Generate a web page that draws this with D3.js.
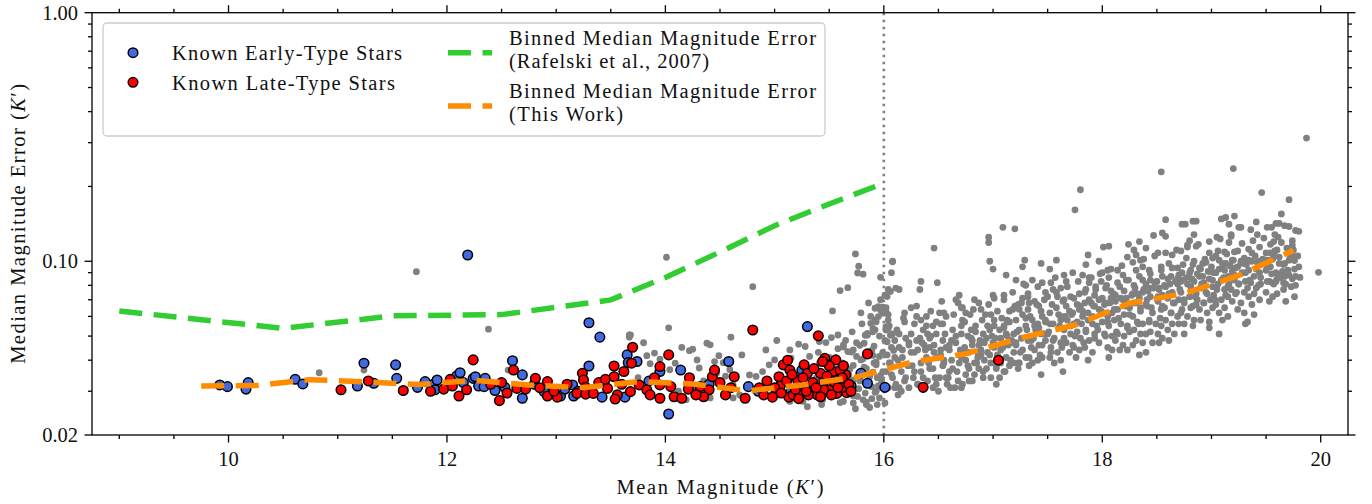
<!DOCTYPE html>
<html>
<head>
<meta charset="utf-8">
<script src="https://cdn.jsdelivr.net/npm/d3@7/dist/d3.min.js"></script>
<style>
  body { margin: 0; background: #fff; }
  svg { display: block; }
  text { font-family: "Liberation Serif", "DejaVu Serif", serif; fill: #111; }
</style>
</head>
<body>
<svg id="chart" width="1372" height="504"></svg>
<script>
// ---- Binned median magnitude error, Rafelski et al. (2007) ----
const rafelskiMag = [9.0, 10.5, 11.5, 12.5, 13.5, 14.0, 14.5, 15.0, 15.5, 16.0];
const rafelskiErr = [0.0631, 0.0537, 0.0603, 0.0610, 0.0699, 0.0860, 0.109, 0.139, 0.170, 0.206];

// ---- Binned median magnitude error, this work ----
const thisWorkMag = [9.75, 10.25, 10.75, 11.25, 11.75, 12.25, 12.75, 13.25, 13.75, 14.25, 14.75,
                     15.25, 15.75, 16.25, 16.75, 17.25, 17.75, 18.25, 18.75, 19.25, 19.75];
const thisWorkErr = [0.0315, 0.0316, 0.0334, 0.0327, 0.0319, 0.0332, 0.0318, 0.0310, 0.0328, 0.0321, 0.0301,
                     0.0318, 0.0342, 0.0392, 0.0424, 0.0491, 0.0554, 0.0678, 0.0742, 0.0877, 0.1105];

// ---- All detected stars: [mean K' magnitude, median magnitude error] ----
const fieldStars = [
  [10.83,.0356],[11.24,.0365],[11.72,.0908],[12.38,.0533],[12.56,.0365],[14.01,.1038],[13.67,.0505],[14.03,.0540],
  [14.80,.0790],[15.81,.0887],[15.60,.0762],[15.67,.0783],[15.53,.0631],[15.97,.0862],[15.95,.0657],[15.99,.0653],
  [16.02,.0627],[15.88,.0563],[15.85,.0513],[15.92,.0530],[16.02,.0546],
  [13.68,.0505],[13.67,.0495],[13.83,.0417],[13.90,.0427],[13.86,.0387],[13.95,.0404],[14.04,.0366],[14.09,.0389],
  [14.22,.0437],[14.25,.0443],[14.38,.0468],[14.41,.0461],[14.49,.0417],[14.29,.0401],[14.31,.0372],[14.47,.0355],
  [14.53,.0391],[14.59,.0366],[14.62,.0318],[14.68,.0290],[14.77,.0349],[14.83,.0344],[14.89,.0360],[14.95,.0383],
  [15.00,.0401],[15.14,.0440],[15.22,.0464],[15.28,.0454],[15.15,.0408],[15.32,.0414],[15.41,.0475],[15.47,.0471],
  [15.52,.0493],[15.58,.0505],[15.63,.0461],[15.67,.0433],[15.41,.0389],[15.38,.0339],[15.50,.0366],[15.72,.0440],
  [15.75,.0414],[15.79,.0401],[15.82,.0468],[15.85,.0505],[15.90,.0537],[15.92,.0581],[15.95,.0599],[15.99,.0618],
  [16.02,.0529],[15.96,.0414],[15.93,.0383],[15.99,.0360],[15.87,.0344],[15.81,.0277],[15.76,.0286],[15.72,.0269],
  [15.84,.0265],[15.63,.0273],[15.44,.0277],[15.26,.0273],[15.14,.0273],[14.74,.0282],[14.62,.0282],[14.41,.0282],
  [14.19,.0277],[15.66,.0313],[15.72,.0333],[15.89,.0313],[15.93,.0300],[15.96,.0282],[16.01,.0269],
  [15.70,.0431],[15.78,.0459],[15.83,.0504],[15.90,.0520],[15.93,.0571],[15.92,.0647],[15.97,.0637],[15.89,.0438],
  [15.90,.0418],[15.81,.0405],[15.72,.0381],[15.93,.0393],[15.63,.0452],[15.84,.0271],[15.87,.0258],[15.72,.0288],
  [15.77,.0307],[15.92,.0297],[15.95,.0316],[15.97,.0347],[15.69,.0369],[15.90,.0358],[16.04,.0537],[16.06,.0504],
  [16.03,.0474],[16.09,.0438],[16.03,.0721],[16.06,.0756],
  [15.05,.0295],[15.10,.0320],[15.18,.0350],[15.20,.0280],[15.25,.0335],[15.30,.0260],[15.35,.0370],[15.36,.0300],
  [15.40,.0430],[15.43,.0265],[15.48,.0345],[15.50,.0410],[15.52,.0285],[15.55,.0330],[15.58,.0445],[15.60,.0270],
  [15.62,.0390],[15.65,.0480],[15.68,.0350],[15.70,.0300],[15.71,.0520],[15.74,.0255],[15.75,.0470],[15.78,.0330],
  [15.80,.0560],[15.82,.0375],[15.83,.0295],[15.86,.0420],[15.88,.0600],[15.89,.0280],[15.91,.0455],[15.94,.0340],
  [15.96,.0500],[15.98,.0310],[15.97,.0700],[15.94,.0265],[15.86,.0680],[15.79,.0620],[15.84,.0370],[15.91,.0390],
  [14.12,.0300],[14.35,.0330],[14.45,.0395],[14.55,.0345],[14.70,.0420],[14.85,.0300],[14.92,.0440],[15.02,.0480],
  [14.15,.0450],[14.60,.0495],[13.80,.0470],[13.75,.0340],
  [19.87,.313],[18.54,.229],[19.20,.236],[17.80,.194],[17.75,.161],[19.46,.189],[19.71,.177],[18.58,.147],
  [18.86,.145],[18.76,.141],[19.09,.148],[19.13,.150],[19.21,.152],[19.41,.144],[19.64,.155],[19.55,.137],
  [19.62,.142],[19.71,.138],[19.80,.132],[19.27,.137],[17.09,.137],[17.20,.135],[16.46,.113],[16.96,.125],
  [16.96,.119],[16.08,.0995],[15.74,.107],[15.77,.0955],[15.76,.0897],[19.98,.0903],[19.81,.0861],[19.76,.1007],
  [19.75,.1047],[19.68,.0809],[19.59,.0830],[19.56,.0817],[19.67,.0869],
  [15.99,.064],[16.02,.065],[16.04,.058],[16.05,.055],[16.08,.051],[16.01,.048],[16.07,.045],[15.99,.043],
  [16.10,.041],[16.05,.039],[16.02,.036],[16.08,.034],[15.98,.033],[16.11,.032],[16.04,.031],[16.10,.031],
  [16.01,.073],[16.04,.077],[16.11,.078],[16.14,.077],[16.07,.090],[16.08,.100],
  [16.19,.062],[16.25,.065],[16.14,.051],[16.20,.049],[16.23,.047],[16.17,.044],[16.25,.043],[16.13,.040],
  [16.22,.038],[16.16,.036],[16.27,.034],[16.19,.033],[16.23,.031],[16.14,.031],[16.30,.060],[16.28,.056],
  [16.34,.083],[16.33,.077],
  [16.39,.055],[16.34,.058],[16.36,.053],[16.40,.051],[16.30,.048],[16.37,.046],[16.42,.045],[16.31,.044],
  [16.39,.041],[16.34,.039],[16.42,.037],[16.28,.036],[16.36,.034],[16.40,.033],[16.31,.032],[16.45,.031],
  [16.43,.050],[16.51,.062],[16.52,.056],[16.49,.082],
  [16.48,.051],[16.54,.048],[16.46,.046],[16.52,.044],[16.57,.045],[16.49,.041],[16.55,.039],[16.45,.037],
  [16.51,.034],[16.57,.034],[16.48,.032],[16.60,.036],[16.54,.056],[16.55,.062],[16.66,.070],[16.68,.068],
  [16.71,.065],
  [16.60,.044],[16.66,.047],[16.71,.051],[16.62,.040],[16.69,.039],[16.63,.037],[16.59,.034],[16.68,.033],
  [16.72,.032],[16.65,.031],[16.71,.055],[16.72,.058],[16.75,.062],[16.71,.031],
  [16.77,.050],[16.80,.053],[16.84,.055],[16.81,.048],[16.74,.045],[16.87,.046],[16.78,.043],[16.86,.041],
  [16.75,.040],[16.83,.039],[16.78,.037],[16.87,.037],[16.75,.035],[16.81,.033],[16.86,.043],[16.83,.070],
  [16.87,.068],[16.89,.064],
  [16.91,.051],[16.97,.053],[17.01,.055],[16.94,.049],[17.00,.047],[16.89,.044],[16.95,.043],[17.01,.045],
  [16.92,.040],[16.98,.039],[17.03,.038],[16.94,.037],[16.91,.034],[17.03,.032],[17.00,.073],[16.98,.061],
  [17.01,.058],[16.97,.100],[17.00,.093],
  [17.06,.053],[17.10,.055],[17.15,.057],[17.07,.049],[17.13,.050],[17.16,.047],[17.09,.045],[17.04,.042],
  [17.12,.041],[17.16,.040],[17.07,.039],[17.15,.038],[17.10,.036],[17.06,.034],[17.13,.058],[17.10,.070],
  [17.12,.088],[17.21,.084],[17.18,.064],[17.20,.066],[17.23,.067],[17.10,.073],
  [17.21,.058],[17.27,.061],[17.32,.064],[17.19,.051],[17.24,.053],[17.30,.055],[17.26,.049],[17.21,.046],
  [17.32,.048],[17.27,.044],[17.19,.043],[17.30,.041],[17.24,.039],[17.23,.037],[17.33,.038],[17.27,.095],
  [17.29,.101],[17.30,.080],[17.36,.084],[17.32,.072],[17.26,.068],[17.33,.068],
  [17.38,.069],[17.42,.066],[17.47,.070],[17.36,.058],[17.41,.056],[17.45,.060],[17.39,.053],[17.44,.051],
  [17.35,.048],[17.42,.046],[17.48,.048],[17.38,.044],[17.45,.041],[17.41,.040],[17.36,.039],[17.44,.035],
  [17.45,.082],[17.48,.075],[17.44,.098],[17.52,.093],[17.48,.058],
  [17.52,.062],[17.58,.065],[17.62,.060],[17.55,.056],[17.61,.055],[17.50,.051],[17.56,.049],[17.62,.047],
  [17.53,.045],[17.59,.043],[17.52,.041],[17.62,.040],[17.56,.039],[17.64,.036],[17.55,.077],[17.62,.078],
  [17.59,.072],[17.58,.101],[17.53,.082],
  [17.67,.066],[17.73,.062],[17.77,.067],[17.68,.058],[17.74,.056],[17.65,.053],[17.71,.051],[17.77,.052],
  [17.67,.047],[17.74,.045],[17.70,.043],[17.79,.044],[17.76,.041],[17.65,.070],[17.71,.072],[17.79,.074],
  [17.67,.083],[17.73,.090],[17.65,.088],[17.79,.064],[17.82,.088],
  [17.84,.068],[17.88,.070],[17.93,.066],[17.82,.060],[17.87,.058],[17.91,.056],[17.85,.053],[17.93,.051],
  [17.80,.049],[17.88,.048],[17.84,.045],[17.91,.043],[17.87,.040],[17.90,.086],[17.94,.079],[17.85,.077],
  [17.93,.073],[17.88,.082],[17.85,.097],[17.87,.106],[17.97,.100],
  [17.97,.070],[18.03,.068],[18.08,.071],[17.99,.063],[18.05,.060],[18.09,.062],[18.00,.057],[18.06,.055],
  [17.96,.053],[18.02,.051],[18.09,.050],[17.97,.047],[18.05,.045],[18.09,.044],[18.06,.041],[18.00,.090],
  [18.06,.086],[18.03,.078],[18.08,.076],[17.99,.083],[18.06,.115],[18.01,.114],[18.05,.092],
  [18.12,.073],[18.19,.070],[18.23,.067],[18.14,.064],[18.20,.061],[18.25,.065],[18.11,.058],[18.17,.056],
  [18.23,.055],[18.14,.051],[18.20,.050],[18.25,.052],[18.12,.048],[18.19,.046],[18.23,.044],[18.16,.044],
  [18.22,.084],[18.14,.092],[18.16,.079],[18.24,.117],[18.23,.104],[18.19,.088],
  [18.28,.074],[18.34,.071],[18.38,.077],[18.29,.068],[18.35,.065],[18.40,.067],[18.28,.060],[18.32,.057],
  [18.37,.056],[18.29,.053],[18.35,.051],[18.40,.051],[18.31,.048],[18.37,.047],[18.28,.046],[18.34,.042],
  [18.40,.043],[18.31,.092],[18.37,.095],[18.34,.120],[18.40,.113],[18.29,.111],[18.35,.101],[18.31,.106],
  [18.37,.084],[18.29,.080],
  [18.43,.078],[18.48,.082],[18.52,.077],[18.44,.072],[18.51,.069],[18.55,.073],[18.41,.066],[18.46,.062],
  [18.54,.064],[18.43,.058],[18.49,.056],[18.54,.055],[18.44,.052],[18.51,.051],[18.55,.049],[18.46,.047],
  [18.52,.047],[18.43,.092],[18.51,.108],[18.47,.127],[18.54,.095],[18.55,.087],[18.44,.084],
  [18.58,.079],[18.64,.075],[18.69,.081],[18.60,.071],[18.66,.068],[18.70,.070],[18.57,.065],[18.63,.062],
  [18.69,.060],[18.58,.058],[18.64,.056],[18.70,.056],[18.60,.053],[18.66,.051],[18.61,.048],[18.58,.126],
  [18.55,.130],[18.64,.106],[18.61,.098],[18.69,.094],[18.63,.087],[18.69,.085],[18.75,.051],
  [18.73,.084],[18.78,.081],[18.84,.083],[18.72,.075],[18.80,.072],[18.86,.074],[18.75,.068],[18.81,.065],
  [18.86,.067],[18.72,.062],[18.78,.060],[18.84,.058],[18.75,.056],[18.83,.055],[18.73,.141],[18.83,.145],
  [18.84,.128],[18.80,.121],[18.78,.116],[18.86,.115],[18.72,.110],[18.77,.103],[18.83,.097],[18.73,.090],
  [18.81,.092],
  [18.89,.087],[18.93,.082],[18.98,.085],[18.90,.078],[18.96,.074],[19.01,.079],[18.87,.070],[18.93,.068],
  [18.99,.070],[18.89,.064],[18.96,.062],[19.01,.065],[18.90,.058],[18.98,.057],[18.92,.098],[18.98,.108],
  [19.01,.103],[18.95,.099],[18.89,.094],[18.99,.091],[18.98,.054],[19.07,.051],
  [19.04,.090],[19.09,.084],[19.15,.087],[19.06,.081],[19.12,.077],[19.16,.081],[19.02,.073],[19.09,.070],
  [19.15,.072],[19.04,.067],[19.12,.065],[19.07,.062],[19.15,.060],[19.10,.058],[19.05,.125],[19.16,.119],
  [19.06,.110],[19.12,.109],[19.16,.141],[19.13,.098],[19.07,.101],[19.10,.094],
  [19.19,.091],[19.24,.095],[19.28,.090],[19.21,.084],[19.25,.081],[19.31,.083],[19.18,.077],[19.22,.074],
  [19.30,.075],[19.19,.069],[19.27,.068],[19.24,.064],[19.30,.062],[19.18,.128],[19.25,.137],[19.21,.109],
  [19.27,.100],[19.31,.098],[19.19,.101],[19.33,.057],[19.31,.056],
  [19.34,.092],[19.39,.087],[19.44,.090],[19.36,.082],[19.41,.078],[19.45,.081],[19.34,.072],[19.39,.074],
  [19.44,.070],[19.37,.067],[19.39,.061],[19.36,.134],[19.42,.128],[19.37,.108],[19.44,.100],[19.34,.101],
  [19.45,.097],
  [19.50,.092],[19.54,.095],[19.59,.090],[19.51,.083],[19.57,.081],[19.60,.085],[19.50,.075],[19.56,.072],
  [19.60,.074],[19.53,.069],[19.51,.137],[19.59,.142],[19.57,.120],[19.58,.110],[19.50,.101],[19.56,.102],
  [19.62,.098],[19.54,.108],
  [19.63,.088],[19.66,.082],[19.70,.092],[19.74,.085],[19.66,.077],[19.73,.079],[19.77,.087],[19.68,.069],
  [19.76,.072],[19.67,.139],[19.77,.133],[19.74,.116],[19.79,.105],[19.71,.101],[19.66,.097],
  [19.77,.080],[19.80,.095],
  [16.03,.042],[16.07,.035],[16.10,.048],[16.12,.053],[16.04,.061],[16.13,.029],[16.06,.039],[16.14,.045],
  [16.17,.041],[16.19,.057],[16.20,.034],[16.25,.051],[16.16,.030],[16.23,.046],[16.26,.038],[16.18,.059],
  [16.28,.043],[16.33,.049],[16.34,.036],[16.39,.060],[16.31,.032],[16.38,.044],[16.30,.066],[16.35,.047],
  [16.41,.039],[16.45,.055],[16.47,.034],[16.43,.063],[16.46,.043],[16.50,.030],[16.42,.049],[16.48,.057],
  [16.52,.042],[16.54,.038],[16.56,.051],[16.60,.046],[16.53,.069],[16.58,.032],[16.55,.040],[16.57,.060],
  [16.62,.048],[16.63,.053],[16.67,.036],[16.70,.044],[16.64,.061],[16.66,.050],[16.61,.031],[16.69,.073],
  [16.73,.044],[16.74,.057],[16.77,.038],[16.80,.049],[16.72,.065],[16.78,.033],[16.71,.041],[16.79,.061],
  [16.81,.046],[16.84,.052],[16.85,.039],[16.90,.058],[16.83,.035],[16.88,.048],[16.82,.064],[16.89,.042],
  [16.92,.047],[16.93,.061],[16.97,.042],[16.99,.050],[16.91,.036],[16.96,.067],[16.95,.055],[16.98,.034],
  [17.02,.049],[17.04,.063],[17.06,.040],[17.10,.054],[17.03,.037],[17.08,.059],[17.01,.071],[17.07,.044],
  [17.12,.051],[17.14,.046],[17.15,.063],[17.19,.039],[17.13,.057],[17.18,.075],[17.11,.036],[17.17,.048],
  [17.22,.052],[17.24,.064],[17.25,.043],[17.30,.059],[17.23,.039],[17.27,.071],[17.21,.047],[17.28,.081],
  [17.31,.053],[17.34,.060],[17.35,.045],[17.40,.067],[17.33,.041],[17.38,.055],[17.32,.074],[17.37,.049],
  [17.42,.054],[17.44,.063],[17.45,.046],[17.50,.072],[17.43,.042],[17.48,.057],[17.41,.079],[17.47,.051],
  [17.52,.056],[17.54,.067],[17.55,.048],[17.60,.061],[17.53,.043],[17.58,.075],[17.51,.052],[17.57,.086],
  [17.62,.058],[17.64,.069],[17.65,.049],[17.70,.063],[17.63,.045],[17.68,.079],[17.61,.054],[17.66,.060],
  [17.72,.061],[17.74,.071],[17.75,.050],[17.80,.066],[17.73,.046],[17.78,.083],[17.71,.055],[17.77,.057],
  [17.82,.063],[17.84,.075],[17.85,.052],[17.90,.068],[17.83,.047],[17.88,.086],[17.81,.056],[17.87,.062],
  [17.92,.066],[17.94,.077],[17.95,.055],[18.00,.071],[17.93,.049],[17.98,.089],[17.91,.060],[17.97,.064],
  [18.02,.067],[18.04,.080],[18.05,.057],[18.10,.074],[18.03,.050],[18.08,.093],[18.01,.062],[18.07,.068],
  [18.12,.069],[18.14,.082],[18.15,.059],[18.20,.076],[18.13,.052],[18.18,.096],[18.11,.064],[18.17,.071],
  [18.22,.071],[18.24,.084],[18.25,.061],[18.30,.078],[18.23,.054],[18.28,.099],[18.21,.066],[18.27,.073],
  [18.32,.074],[18.34,.087],[18.35,.063],[18.40,.081],[18.33,.056],[18.38,.102],[18.31,.068],[18.37,.075],
  [18.42,.076],[18.44,.089],[18.45,.065],[18.50,.083],[18.43,.057],[18.48,.105],[18.41,.070],[18.47,.078],
  [18.52,.078],[18.54,.092],[18.55,.066],[18.60,.085],[18.53,.059],[18.58,.108],[18.51,.072],[18.57,.080],
  [18.62,.081],[18.64,.094],[18.65,.068],[18.70,.088],[18.63,.062],[18.68,.111],[18.61,.074],[18.67,.083],
  [18.72,.083],[18.74,.097],[18.75,.070],[18.80,.090],[18.73,.064],[18.78,.114],[18.71,.077],[18.77,.086],
  [18.82,.085],[18.84,.100],[18.85,.072],[18.90,.093],[18.83,.066],[18.88,.117],[18.81,.079],[18.87,.089],
  [18.92,.087],[18.94,.102],[18.95,.075],[19.00,.095],[18.93,.068],[18.98,.120],[18.91,.081],[18.97,.091],
  [19.02,.090],[19.04,.105],[19.05,.077],[19.10,.098],[19.03,.070],[19.08,.123],[19.01,.084],[19.07,.093],
  [19.12,.092],[19.14,.107],[19.15,.079],[19.20,.101],[19.13,.073],[19.18,.126],[19.11,.086],[19.17,.096],
  [19.22,.094],[19.24,.110],[19.25,.081],[19.30,.103],[19.23,.075],[19.28,.118],[19.21,.088],[19.27,.098],
  [19.32,.097],[19.34,.112],[19.35,.084],[19.40,.105],[19.33,.078],[19.38,.121],[19.31,.090],[19.37,.100],
  [19.42,.099],[19.44,.114],[19.45,.086],[19.50,.108],[19.43,.080],[19.48,.124],[19.41,.093],[19.47,.102],
  [19.52,.101],[19.54,.117],[19.55,.089],[19.60,.111],[19.53,.083],[19.58,.128],[19.51,.095],[19.57,.105],
  [19.62,.104],[19.64,.119],[19.65,.091],[19.69,.113],[19.63,.086],[19.61,.125],[19.67,.098],
  [19.72,.106],[19.74,.121],[19.76,.093],[19.71,.088],[19.75,.111]
];

// ---- Known early-type stars ----
const earlyType = [
  [9.92,.0318],[9.99,.0313],[10.16,.0306],[10.18,.0325],[10.61,.0335],[10.68,.0321],[11.18,.0315],[11.24,.0389],
  [11.33,.0323],[11.53,.0383],[11.54,.0338],[11.73,.0311],[11.88,.0321],[11.89,.0304],[11.91,.0333],[12.09,.0346],
  [12.12,.0356],[12.19,.1060],[12.24,.0338],[12.26,.0343],[12.29,.0315],[12.35,.0338],[12.34,.0313],[12.44,.0302],
  [12.53,.0311],[12.60,.0398],[12.69,.0349],[12.69,.0281],[12.89,.0299],[13.04,.0287],[13.08,.0306],[13.15,.0318],
  [13.16,.0287],[13.30,.0566],[13.40,.0495],[13.30,.0379],[13.42,.0284],[13.65,.0420],[13.66,.0391],[13.74,.0395],
  [13.63,.0284],[13.95,.0360],[14.03,.0243],[14.14,.0365],[14.26,.0308],[14.58,.0395],[14.76,.0313],[15.25,.0365],
  [15.30,.0546],[15.79,.0354],[15.85,.0323],[16.01,.0311],
  [15.15,.0300],[15.55,.0335],[15.70,.0315],[14.85,.0300],[14.40,.0320],[13.85,.0330],[13.20,.0300],[12.80,.0320],
  [12.15,.0325],[11.80,.0328]
];

// ---- Known late-type stars ----
const lateType = [
  [11.03,.0304],[11.28,.0330],[11.60,.0302],[11.97,.0306],[12.03,.0335],[12.11,.0287],[12.18,.0304],[12.24,.0401],
  [12.50,.0325],[12.48,.0275],[12.61,.0365],[12.64,.0308],[12.72,.0306],[12.81,.0338],[12.92,.0328],[12.92,.0287],
  [13.01,.0284],[13.19,.0294],[13.24,.0354],[13.25,.0333],[13.27,.0311],[13.27,.0292],[13.34,.0294],[13.39,.0325],
  [13.47,.0308],[13.53,.0379],[13.53,.0343],[13.56,.0290],[13.54,.0279],[13.62,.0360],[13.70,.0451],[13.69,.0389],
  [13.68,.0299],[13.76,.0318],[13.83,.0304],[13.95,.0377],[14.03,.0420],[13.95,.0318],[13.95,.0281],[14.05,.0313],
  [14.08,.0285],[14.15,.0281],[14.21,.0306],[14.32,.0313],[14.40,.0304],[14.43,.0343],[14.45,.0365],[14.35,.0285],
  [14.55,.0290],[14.63,.0343],[14.73,.0281],[14.80,.0529],[14.90,.0290],[14.98,.0284],[15.08,.0383],[15.14,.0365],
  [15.04,.0343],[15.05,.0315],[15.13,.0284],[15.21,.0333],[15.27,.0383],[15.30,.0354],[15.40,.0501],[15.33,.0313],
  [15.24,.0299],[15.39,.0290],[15.45,.0328],[15.46,.0407],[15.56,.0401],[15.54,.0360],[15.60,.0323],[15.65,.0349],
  [15.66,.0296],[15.51,.0304],[15.57,.0294],[15.31,.0290],[15.85,.0424],[15.17,.0290],[15.45,.0304],[15.42,.0354],
  [15.62,.0311],[15.60,.0364],[16.36,.0311],[17.05,.0400],
  [15.00,.0310],[15.06,.0295],[15.11,.0330],[15.16,.0350],[15.19,.0305],[15.22,.0280],[15.26,.0340],[15.29,.0300],
  [15.35,.0325],[15.36,.0370],[15.38,.0310],[15.42,.0285],[15.48,.0345],[15.50,.0380],[15.52,.0290],[15.55,.0325],
  [15.58,.0310],[15.62,.0340],[15.63,.0380],[15.68,.0320],[15.70,.0300],[15.44,.0395],[15.12,.0400],[14.86,.0310],
  [14.93,.0330],[14.60,.0310],[14.50,.0325],[14.22,.0340],[14.28,.0290],[13.86,.0290],[13.90,.0340],[13.60,.0320],
  [13.45,.0335],[13.10,.0320],[12.98,.0300],[12.85,.0310],[12.55,.0295],[12.40,.0320],[12.05,.0315],[11.85,.0300]
];

// ---- Axis ticks and labels ----
const xMajorTicks = [10, 12, 14, 16, 18, 20];
const xMinorStep = 0.5;
const yMajorTicks = [1, 0.1, 0.02];
const yTickLabels = ["1.00", "0.10", "0.02"];
const cutoffMag = 16;

// ---- Layout ----
const W = 1372, H = 504;
const svg = d3.select("#chart");
svg.append("rect").attr("width", W).attr("height", H).attr("fill", "#fff");

const x = d3.scaleLinear().domain([8.75, 20.25]).range([92, 1348]);
const y = d3.scaleLog().domain([0.02, 1]).range([435, 12.7]);
const [xL, xR] = x.range();
const [yB, yT] = y.range();

svg.append("clipPath").attr("id", "plotArea")
  .append("rect").attr("x", xL).attr("y", yT).attr("width", xR - xL).attr("height", yB - yT);

const plot = svg.append("g").attr("clip-path", "url(#plotArea)");

// all detections
plot.append("g").selectAll("circle").data(fieldStars).join("circle")
  .attr("cx", d => x(d[0])).attr("cy", d => y(d[1])).attr("r", 3.4)
  .attr("fill", "#808080");

// completeness cut
plot.append("line")
  .attr("x1", x(cutoffMag)).attr("x2", x(cutoffMag)).attr("y1", yT).attr("y2", yB)
  .attr("stroke", "#808080").attr("stroke-width", 2.6).attr("stroke-dasharray", "2.6,4.4");

// spectroscopically typed stars
function typedStars(data, fill) {
  plot.append("g").selectAll("circle").data(data).join("circle")
    .attr("cx", d => x(d[0])).attr("cy", d => y(d[1])).attr("r", 4.8)
    .attr("fill", fill).attr("stroke", "#000").attr("stroke-width", 1.5);
}
typedStars(earlyType, "#4169e1");
typedStars(lateType, "#ff0000");

// binned median curves
const medianLine = d3.line().x(d => x(d[0])).y(d => y(d[1]));
function binnedCurve(mags, errs, color) {
  plot.append("path").datum(mags.map((m, i) => [m, errs[i]]))
    .attr("d", medianLine).attr("fill", "none")
    .attr("stroke", color).attr("stroke-width", 5.5)
    .attr("stroke-dasharray", "23,11.5");
}
binnedCurve(rafelskiMag, rafelskiErr, "#32cd32");
binnedCurve(thisWorkMag, thisWorkErr, "#ff8c00");

// ---- Axes frame and ticks (all four sides, outward) ----
const axes = svg.append("g").attr("stroke", "#000").attr("stroke-width", 1.3);
axes.append("rect").attr("x", xL).attr("y", yT).attr("width", xR - xL).attr("height", yB - yT).attr("fill", "none");

const xMinor = d3.range(9, 20.01, xMinorStep).filter(v => !xMajorTicks.includes(v));
const yMinor = [];
[0.01, 0.1].forEach(dec => d3.range(2, 10).forEach(k => {
  const v = +(k * dec).toPrecision(3);
  if (v > 0.02 && v < 1) yMinor.push(v);
}));

function xTicks(vals, len) {
  vals.forEach(v => {
    axes.append("line").attr("x1", x(v)).attr("x2", x(v)).attr("y1", yB).attr("y2", yB + len);
    axes.append("line").attr("x1", x(v)).attr("x2", x(v)).attr("y1", yT).attr("y2", yT - len);
  });
}
function yTicks(vals, len) {
  vals.forEach(v => {
    axes.append("line").attr("y1", y(v)).attr("y2", y(v)).attr("x1", xL).attr("x2", xL - len);
    axes.append("line").attr("y1", y(v)).attr("y2", y(v)).attr("x1", xR).attr("x2", xR + len);
  });
}
xTicks(xMajorTicks, 7.5);
xTicks(xMinor, 4);
yTicks(yMajorTicks, 7.5);
yTicks(yMinor, 4);

svg.append("g").selectAll("text").data(xMajorTicks).join("text")
  .attr("x", d => x(d)).attr("y", yB + 31).attr("text-anchor", "middle")
  .style("font-size", "20.5px").text(d => d);

svg.append("g").selectAll("text").data(yMajorTicks).join("text")
  .attr("x", xL - 14).attr("y", d => y(d) + 7).attr("text-anchor", "end")
  .style("font-size", "20.5px").text((d, i) => yTickLabels[i]);

// axis titles
function kTitle(sel, before) {
  sel.append("tspan").text(before + "(");
  sel.append("tspan").style("font-style", "italic").text("K");
  sel.append("tspan").text("′)");
}
const xt = svg.append("text").attr("x", (xL + xR) / 2).attr("y", 494)
  .attr("text-anchor", "middle").style("font-size", "20.5px")
  .attr("textLength", 207).attr("lengthAdjust", "spacing");
kTitle(xt, "Mean Magnitude ");

const yt = svg.append("text")
  .attr("transform", `translate(25,${(yT + yB) / 2}) rotate(-90)`)
  .attr("text-anchor", "middle").style("font-size", "20.5px")
  .attr("textLength", 280).attr("lengthAdjust", "spacing");
kTitle(yt, "Median Magnitude Error ");

// ---- Legend ----
const lg = svg.append("g");
lg.append("rect").attr("x", 103).attr("y", 23).attr("width", 722).attr("height", 113).attr("rx", 4)
  .attr("fill", "#fff").attr("fill-opacity", 0.8).attr("stroke", "#cccccc").attr("stroke-width", 1.3);

const markerItems = [
  { label: "Known Early-Type Stars", fill: "#4169e1", cy: 52.7, base: 60, len: 230 },
  { label: "Known Late-Type Stars", fill: "#ff0000", cy: 82.3, base: 90, len: 223 }
];
markerItems.forEach(it => {
  lg.append("circle").attr("cx", 133).attr("cy", it.cy).attr("r", 4.8)
    .attr("fill", it.fill).attr("stroke", "#000").attr("stroke-width", 1.5);
  lg.append("text").attr("x", 172).attr("y", it.base).style("font-size", "20.5px")
    .attr("textLength", it.len).attr("lengthAdjust", "spacing").text(it.label);
});

const lineItems = [
  { lines: ["Binned Median Magnitude Error", "(Rafelski et al., 2007)"], lens: [307, 200],
    color: "#32cd32", cy: 52.7, base: 45 },
  { lines: ["Binned Median Magnitude Error", "(This Work)"], lens: [307, 114],
    color: "#ff8c00", cy: 106, base: 97.5 }
];
lineItems.forEach(it => {
  lg.append("line").attr("x1", 448).attr("x2", 492).attr("y1", it.cy).attr("y2", it.cy)
    .attr("stroke", it.color).attr("stroke-width", 5.5).attr("stroke-dasharray", "23,11.5");
  it.lines.forEach((t, i) => {
    lg.append("text").attr("x", 509).attr("y", it.base + i * 23).style("font-size", "20.5px")
      .attr("textLength", it.lens[i]).attr("lengthAdjust", "spacing").text(t);
  });
});
</script>
</body>
</html>
